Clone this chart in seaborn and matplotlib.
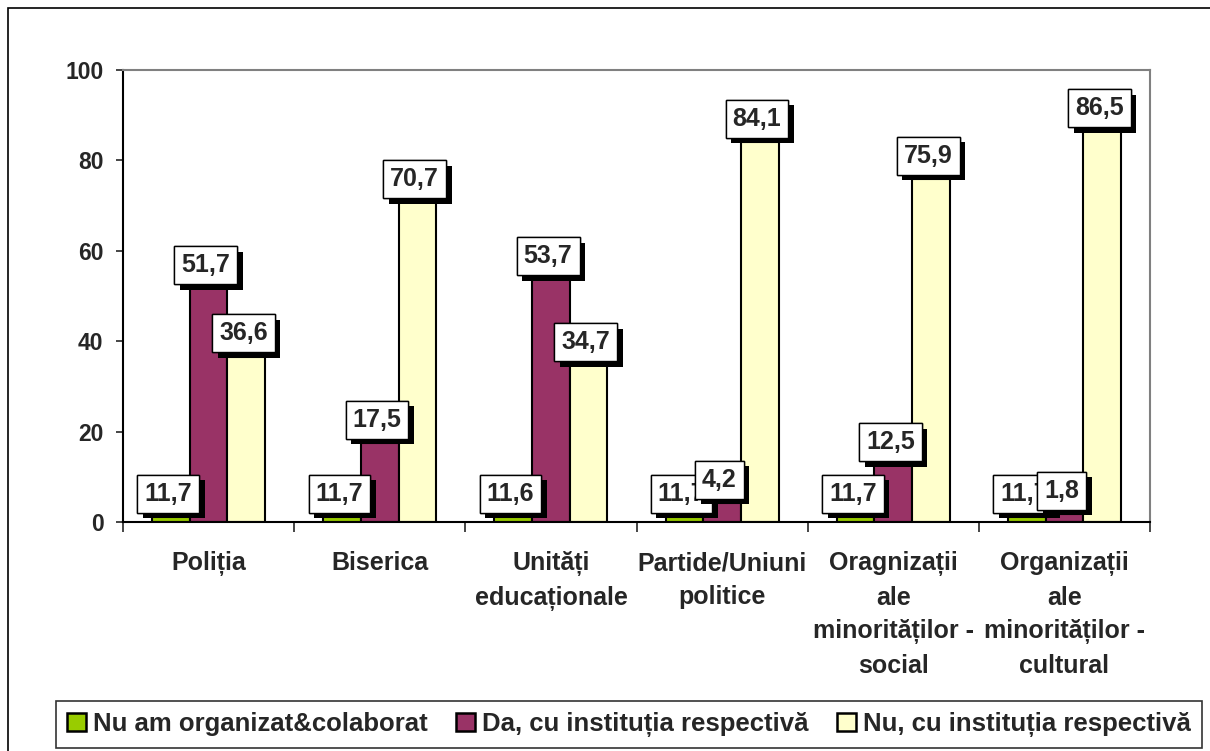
import matplotlib
matplotlib.use("Agg")
import matplotlib.pyplot as plt
import matplotlib.patheffects as pe
from matplotlib.patches import Rectangle
import pandas as pd
import seaborn as sns

categories = ["Poliția", "Biserica", "Unități\neducaționale", "Partide/Uniuni\npolitice",
              "Oragnizații\nale\nminorităților -\nsocial", "Organizații\nale\nminorităților -\ncultural"]
series = ["Nu am organizat&colaborat", "Da, cu instituția respectivă", "Nu, cu instituția respectivă"]
# green bars are drawn much lower than their printed label in the original
nu_organizat = [1.17, 1.17, 1.16, 1.17, 1.17, 1.17]
da_institutie = [51.7, 17.5, 53.7, 4.2, 12.5, 1.8]
nu_institutie = [36.6, 70.7, 34.7, 84.1, 75.9, 86.5]
nu_organizat_labels = ["11,7", "11,7", "11,6", "11,7", "11,7", "11,7"]
colors = ["#99CC00", "#993366", "#FFFFCC"]

rows = []
for s, vals in zip(series, [nu_organizat, da_institutie, nu_institutie]):
    for c, v in zip(categories, vals):
        rows.append({"cat": c, "series": s, "val": v})
df = pd.DataFrame(rows)

sns.set_style("white")
plt.rcParams["font.family"] = ["Liberation Sans", "DejaVu Sans"]
plt.rcParams["font.weight"] = "bold"

fig = plt.figure(figsize=(12.1, 7.51), dpi=100)
ax = fig.add_axes([0.1017, 0.305, 0.8487, 0.6017])

sns.barplot(data=df, x="cat", y="val", hue="series", palette=colors, saturation=1,
            width=0.66, edgecolor="black", linewidth=1.5, ax=ax)

ax.set_ylim(0, 100)
ax.set_xlim(-0.5, 5.5)
ax.set_xlabel("")
ax.set_ylabel("")
ax.set_yticks([0, 20, 40, 60, 80, 100])
ax.tick_params(axis="y", labelsize=16.5, length=5, width=1.2, direction="out", left=True, pad=9)
ax.tick_params(axis="x", labelsize=18, length=0, pad=21)
ax.set_xticks(range(6))
ax.set_xticklabels(categories, fontweight="bold", linespacing=1.5, va="top")
ax.set_xticks([i + 0.5 for i in range(-1, 6)], minor=True)
ax.tick_params(axis="x", which="minor", length=7, width=1.2, bottom=True)
for lab in ax.get_yticklabels():
    lab.set_fontweight("bold")

for side in ["top", "right"]:
    ax.spines[side].set_color("#808080")
    ax.spines[side].set_linewidth(1.5)
for side in ["left", "bottom"]:
    ax.spines[side].set_color("black")
    ax.spines[side].set_linewidth(1.5)

labels_all = [nu_organizat_labels,
              [f"{v:.1f}".replace(".", ",") for v in da_institutie],
              [f"{v:.1f}".replace(".", ",") for v in nu_institutie]]
for cont, labs in zip(ax.containers, labels_all):
    for bar, lab in zip(cont, labs):
        x = bar.get_x() + bar.get_width() / 2
        y = bar.get_height()
        t = ax.annotate(lab, (x, y), xytext=(-2, 8), textcoords="offset points",
                        ha="center", va="bottom", fontsize=18, fontweight="bold",
                        bbox=dict(boxstyle="square,pad=0.28", fc="white", ec="black", lw=1))
        t.get_bbox_patch().set_path_effects([
            pe.withSimplePatchShadow(offset=(4, -4), shadow_rgbFace="black", alpha=1),
            pe.Normal()])

handles, labs = ax.get_legend_handles_labels()
ax.get_legend().remove()
leg = fig.legend(handles, labs, loc="lower center", bbox_to_anchor=(0.520, 0.004), ncol=3,
                 fontsize=18.5, frameon=True, fancybox=False, edgecolor="black",
                 handlelength=0.72, handleheight=0.72, handletextpad=0.3, columnspacing=1.1,
                 borderpad=0.42, borderaxespad=0.0)
leg.get_frame().set_linewidth(1.2)
for h in leg.legend_handles:
    h.set_edgecolor("black")
    h.set_linewidth(1.8)
for txt in leg.get_texts():
    txt.set_fontweight("bold")

fig.patches.append(Rectangle((0.007, -0.01), 1.0, 1.0, transform=fig.transFigure,
                             fill=False, ec="black", lw=1.2))

fig.savefig("out.png", dpi=100)
